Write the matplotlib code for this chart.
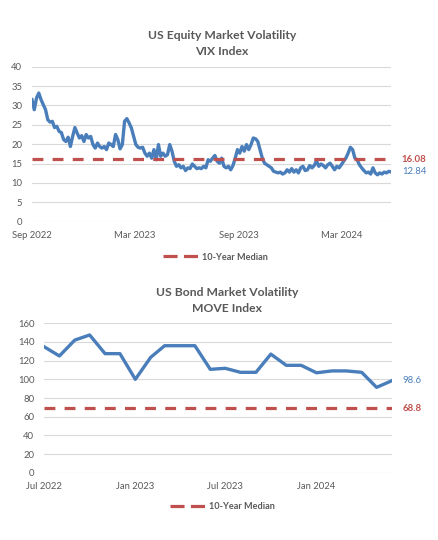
import pandas as pd
import matplotlib
matplotlib.use("Agg")
import matplotlib.pyplot as plt
import matplotlib.dates as mdates
from matplotlib.lines import Line2D

plt.rcParams['font.family'] = ['Lato', 'DejaVu Sans']

# VIX at evenly spaced points
vix = [31.5, 28.9, 31.9, 33.2, 31.5, 30.2, 28.9, 26.3, 25.7, 25.9,
       24.3, 24.6, 23.3, 23.0, 21.2, 20.7, 21.8, 19.4, 22.0, 24.3,
       22.9, 21.6, 22.2, 20.7, 22.5, 21.6, 22.0, 19.9, 19.0, 20.3,
       19.4, 19.0, 19.4, 18.6, 20.3, 19.9, 19.4, 22.5, 21.2, 18.8,
       19.9,
       25.9, 26.6, 25.5, 24.2, 22.0, 19.9, 19.2, 19.0, 19.2, 17.7,
       16.9, 17.7, 16.4, 18.6, 16.0, 19.9, 16.9, 17.7, 16.9, 17.3,
       19.9, 18.2, 15.6, 14.3, 14.7, 13.9, 14.3, 13.2, 13.9, 13.7,
       14.9, 14.3, 13.7, 13.9, 13.7, 14.3, 13.9, 16.0, 15.6, 16.4,
       17.1,
       15.6, 15.1, 16.4, 14.3, 13.9, 14.3, 13.4, 14.5, 16.4, 18.6,
       17.7, 19.4, 18.2, 19.9, 18.6, 19.9, 21.6, 21.4, 20.7, 18.6,
       16.4, 15.1, 14.7, 14.3, 13.9, 13.0, 12.8, 12.6, 12.8, 12.3,
       12.6, 13.4, 12.8, 13.7, 12.8, 13.4, 12.6, 13.9, 14.3, 13.2,
       13.4, 14.5, 13.9, 14.5, 15.7, 14.3, 14.9, 14.5, 13.9, 14.7,
       15.1, 14.3, 13.4, 14.3, 13.9, 14.7, 15.6, 16.4, 17.7, 19.2,
       18.6, 16.4, 16.0, 14.7, 13.9, 13.2, 12.6, 12.8, 12.3, 13.9,
       12.6, 12.1, 12.6, 12.3, 12.8, 12.6, 13.0, 12.84]
vix_start, vix_end = "2022-09-23", "2024-06-18"
vix_ticks = ["2022-09-23", "2023-03-23", "2023-09-23", "2024-03-23"]
vix_median = 16.08

# MOVE, monthly
move = [135, 125, 142, 147.5, 127.5, 127.5, 100, 123.6, 136, 136, 136, 110.7,
        111.8, 107.5, 107.5, 127, 115, 115, 107, 109, 109, 107.5, 91.4, 98.6]
move_start = "2022-07-01"
move_ticks = ["2022-07-01", "2023-01-01", "2023-07-01", "2024-01-01"]
move_median = 68.8

blue = "#4A7EBB"
red = "#C0504D"
grey = "#595959"

fig = plt.figure(figsize=(4.39, 5.40), dpi=100)
ax1 = fig.add_axes([0.0729, 0.5894, 0.8178, 0.2871])
ax2 = fig.add_axes([0.1002, 0.1246, 0.7927, 0.2767])


def style(ax, dates, values, median, ticks, yticks, last_lbl, med_lbl):
    ax.plot(dates, values, color=blue, lw=2.4, solid_joinstyle="round")
    ax.axhline(median, color=red, lw=2.3, dashes=(3.4, 2.9))
    ax.set_xlim(dates[0], dates[-1])
    ax.set_ylim(yticks[0], yticks[-1])
    ax.set_yticks(yticks)
    ax.set_xticks(pd.to_datetime(ticks))
    ax.xaxis.set_major_formatter(mdates.DateFormatter("%b %Y"))
    ax.yaxis.grid(True, color="#D9D9D9", lw=0.8)
    ax.set_axisbelow(True)
    for s in ax.spines.values():
        s.set_visible(False)
    ax.tick_params(length=0, labelsize=6.8, colors=grey, pad=7)
    tr = ax.get_yaxis_transform()
    ax.text(1.03, values[-1], last_lbl, transform=tr, ha="left", va="center",
            color=blue, fontsize=6.9)
    ax.text(1.03, median, med_lbl, transform=tr, ha="left", va="center",
            color=red, fontsize=6.9, weight="bold")


vix_dates = pd.date_range(vix_start, vix_end, periods=len(vix))
style(ax1, vix_dates, vix, vix_median, vix_ticks, list(range(0, 45, 5)),
      "12.84", "16.08")

move_dates = pd.date_range(move_start, periods=len(move), freq="MS")
style(ax2, move_dates, move, move_median, move_ticks, list(range(0, 180, 20)),
      "98.6", "68.8")

tsize = 8.7
fig.text(0.505, 0.935, "US Equity Market Volatility", ha="center", va="center",
         fontsize=tsize, weight="bold", color=grey)
fig.text(0.505, 0.904, "VIX Index", ha="center", va="center",
         fontsize=tsize, weight="bold", color=grey)
fig.text(0.517, 0.458, "US Bond Market Volatility", ha="center", va="center",
         fontsize=tsize, weight="bold", color=grey)
fig.text(0.517, 0.428, "MOVE Index", ha="center", va="center",
         fontsize=tsize, weight="bold", color=grey)

for anchor in [(0.491, 0.524), (0.507, 0.0617)]:
    h = Line2D([], [], color=red, lw=2.3, dashes=(4.4, 2))
    fig.legend([h], ["10-Year Median"], loc="center", bbox_to_anchor=anchor,
               frameon=False, handlelength=3.8, handletextpad=0.5,
               prop={"size": 6.6, "weight": "bold"}, labelcolor=grey)

fig.savefig("out.png", dpi=100)
